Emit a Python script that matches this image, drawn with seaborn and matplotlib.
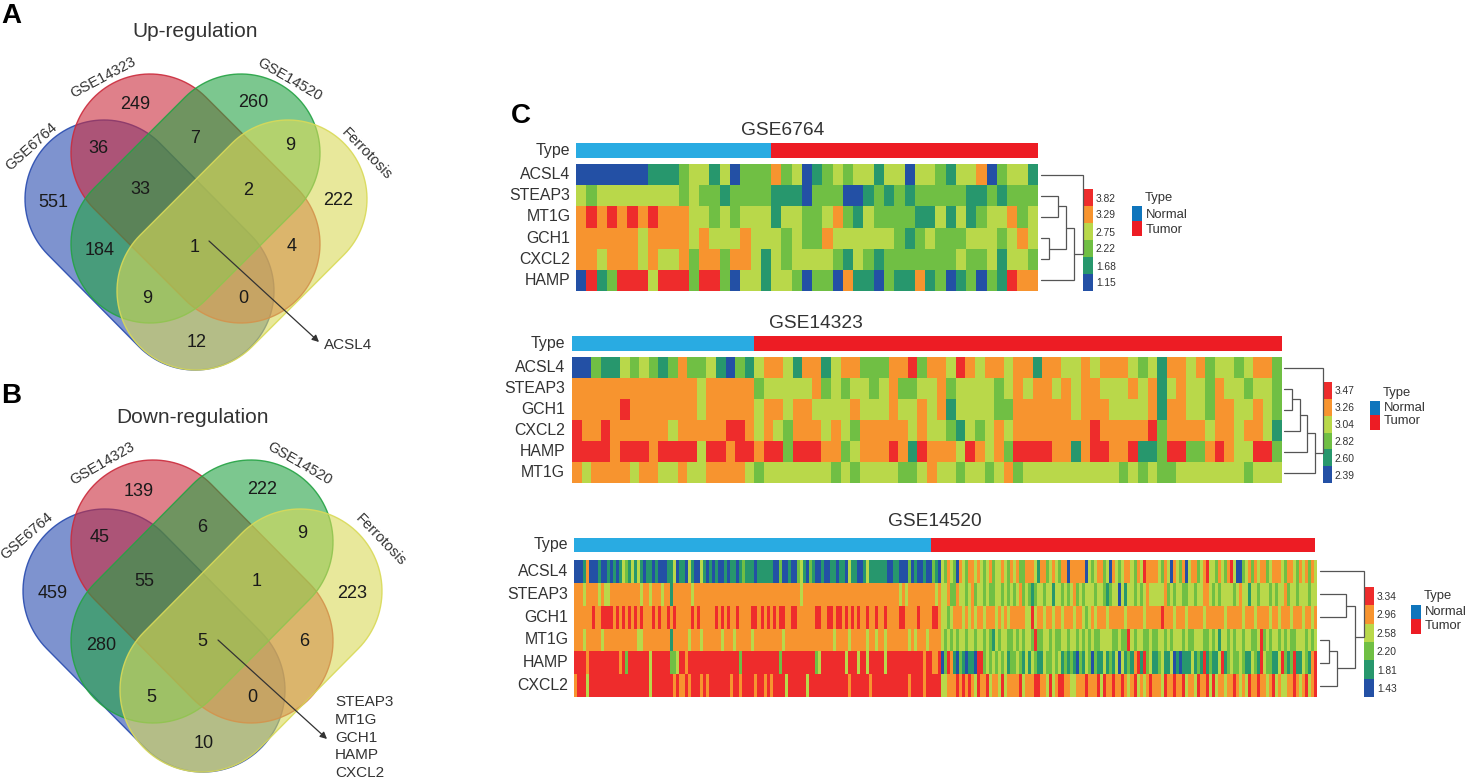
#!/usr/bin/env python3
# Venn diagrams (A, B) and expression heatmaps (C)

import numpy as np
import pandas as pd
import matplotlib
matplotlib.use("Agg")
import matplotlib.pyplot as plt
from matplotlib.colors import ListedColormap
from matplotlib.patches import Polygon, Rectangle
import seaborn as sns

W, H = 1466, 779

# heat levels: 0 blue ... 5 red
level_colors = ["#2350a5", "#27976d", "#70bf44", "#b9d84a", "#f7942f", "#ee2c2c"]
type_colors = ["#29abe2", "#ed1c24"]
legend_colors = ["#0f75bc", "#ed1c24"]

# --- Venn counts ---
up_counts = [551, 249, 260, 36, 7, 9, 33, 2, 222, 184, 1, 4, 9, 0, 12]
down_counts = [459, 139, 222, 45, 6, 9, 55, 1, 223, 280, 5, 6, 5, 0, 10]
genes_up = ["ACSL4"]
genes_down = ["STEAP3", "MT1G", "GCH1", "HAMP", "CXCL2"]

# --- GSE6764 ---
genes_6764 = ["ACSL4", "STEAP3", "MT1G", "GCH1", "CXCL2", "HAMP"]
rows_6764 = [
    "0000000" "111" "2" "33" "1" "3" "0" "222" "4" "2" "3" "0" "1" "2" "3" "2" "33" "1" "33" "0" "33" "2" "1" "33" "4" "0" "2" "33" "1",
    "3" "2" "33333333" "2" "3" "22" "1" "2222" "111" "0" "222" "00" "1" "2" "1" "2" "1" "22222" "11" "2" "1" "222",
    "4" "5" "4" "5" "4" "5" "4" "5" "444" "33" "2" "3" "2" "333" "1" "33" "22" "3" "4" "2" "1" "3" "2222" "11" "3" "1" "3" "1" "2" "33" "4" "2" "3",
    "444444" "3" "4444" "3" "4" "333" "4" "333" "2" "3" "22" "4" "333333" "2" "1" "2" "3" "222" "333" "2" "3" "4" "3",
    "44" "3" "444" "3" "4" "33" "4" "2" "44" "2" "44" "3" "1" "3" "2" "3333" "2" "1" "3" "2" "1" "2222222" "3" "22" "3" "1" "33" "2",
    "0" "5" "1" "2" "555" "3" "555" "2" "55" "2" "0" "33" "1" "33" "2" "0" "22" "0" "4" "11" "0" "2" "11" "4" "1" "2" "0" "1" "2" "0" "2" "1" "5" "44",
]
types_6764 = [0] * 19 + [1] * 26
scale_6764 = ["3.82", "3.29", "2.75", "2.22", "1.68", "1.15"]
merges_6764 = [(1, 2, 1058), (3, 4, 1049), (6, 7, 1066), (8, 5, 1074), (0, 9, 1083)]

# --- GSE14323 ---
genes_14323 = ["ACSL4", "STEAP3", "GCH1", "CXCL2", "HAMP", "MT1G"]
rows_14323 = [
    "0021132321" "2422310213" "44314413"
    "44222" "44" "5" "2" "44" "3" "5" "4" "3" "44" "3" "44" "1" "44" "33" "4" "3" "444" "3" "2" "3" "1" "44" "3" "4"
    "23323442",
    "4444444444444" "3" "44444" "2" "33333" "4" "2" "3"
    "2" "33" "2" "3" "4" "22" "33" "4" "2" "3333" "2" "3" "4" "3" "44" "3" "4" "3" "44" "333" "4" "3" "4" "1" "3" "4" "33"
    "24332332",
    "44444" "5" "4444444" "3" "44444" "3" "44" "3" "44" "333"
    "3" "4" "333" "4" "33" "4" "3" "4" "1" "3333" "22" "444444" "3" "444" "3333" "4" "1" "44" "33"
    "24433432",
    "5" "44" "5" "444444" "3" "44444" "55" "4" "3" "4" "3" "2" "444" "3" "4"
    "3" "2" "44444" "3" "4" "33" "2" "1" "3" "2" "3" "4" "3" "44444444" "5" "44444" "5" "2" "4444"
    "34434431",
    "5555" "4" "555" "4" "5555" "3" "55" "4" "55" "4" "55" "2" "555" "44"
    "2" "3" "444" "5" "4" "1" "5" "444" "3" "5" "4" "3" "4" "2" "5555" "44" "1" "4" "55" "44" "5" "11" "2" "55" "22"
    "45433552",
    "4" "3" "4444" "3" "44" "33" "4" "33" "4444" "3" "2" "3333333" "2"
    "3" "2" "3333" "22" "3" "4" "33" "2" "33" "2" "3" "4" "2" "3333333333" "2" "3" "2" "3" "22" "333"
    "33332333",
]
types_14323 = [0] * 19 + [1] * 55
scale_14323 = ["3.47", "3.26", "3.04", "2.82", "2.60", "2.39"]
merges_14323 = [(1, 2, 1292), (6, 3, 1300), (7, 4, 1307), (8, 5, 1315), (0, 9, 1323)]

# --- GSE14520 ---
genes_14520 = ["ACSL4", "STEAP3", "GCH1", "MT1G", "HAMP", "CXCL2"]
# normal samples: background level and the columns that differ from it
n_normal_14520 = 122
normal_14520 = [
    (1, {0: [0, 1, 2, 5, 6, 7, 9, 10, 12, 14, 23, 26, 28, 29, 30, 34, 37, 40, 41, 44, 46, 48, 49, 51, 54, 60,
             66, 67, 69, 70, 72, 73, 77, 80, 81, 83, 84, 87, 90, 94, 95, 104, 105, 108, 109, 110, 112, 114,
             115, 117, 118, 121],
         2: [17, 56, 68, 74, 78, 111, 119],
         3: [16, 19, 21, 33, 38, 42, 75, 91, 97],
         4: [4]}),
    (4, {3: [3, 8, 10, 11, 22, 25, 29, 39, 75, 108, 110, 120], 1: [32]}),
    (4, {5: [6, 9, 10, 11, 12, 14, 16, 18, 20, 22, 26, 28, 31, 33, 39, 41, 47, 49, 51, 54, 59, 60,
             62, 64, 66, 68, 69, 72, 73, 80, 81, 84, 85, 87, 88, 90, 92, 94, 97, 100, 103, 108, 109,
             114, 119, 120]}),
    (4, {3: [3, 9, 21, 22, 38, 42, 49, 53, 59, 69, 86, 91, 97, 100, 103, 111, 113, 117], 1: [32]}),
    (5, {4: [4, 15, 37, 116, 119, 120], 2: [17, 32, 33, 55, 68, 80], 3: [25, 34, 81, 90, 94, 97, 103]}),
    (5, {4: [0, 33, 35, 36, 38, 42, 44, 52, 55, 60, 63, 65, 91, 98, 111, 116], 3: [4, 25, 70, 77]}),
]
tumor_14520 = [
    "3243204324" "4343234233" "4324342244" "4314423432" "4404444403" "2344230432" "3443243544"
    "4432430432" "4034423453" "3243245300" "2342434423" "4443244324" "34243",
    "3342243323" "4233232233" "2323234232" "1233233133" "2323423233" "3233212330" "3133232343"
    "3333423233" "2233233443" "2323333234" "3313323332" "3233423323" "33233",
    "3323444343" "4344344434" "3434444433" "5344344344" "3444344323" "4344434444" "4344444344"
    "4445444344" "4344444344" "4444344444" "3444344443" "4434443444" "34434",
    "3232323323" "3233232132" "3322323233" "2522332322" "3323323232" "3223333223" "2253233223"
    "2233232333" "2322333223" "2313323233" "2332235232" "3323232233" "32323",
    "0254102101" "1055232323" "2312232131" "3211322323" "1212102132" "0211312130" "3121451523"
    "1123113010" "1113121512" "1135123223" "2113215322" "1135212511" "32145",
    "3344454545" "4354453443" "5344445344" "4554435345" "5443344454" "4453544544" "5434534345"
    "4443544544" "5344354453" "5344344543" "4354454434" "5343344543" "45345",
]
types_14520 = [0] * 119 + [1] * 128
scale_14520 = ["3.34", "2.96", "2.58", "2.20", "1.81", "1.43"]
merges_14520 = [(1, 2, 1346), (3, 4, 1329), (7, 5, 1337), (6, 8, 1355), (0, 9, 1364)]


def build_14520():
    out = []
    for (background, changes), tumor in zip(normal_14520, tumor_14520):
        row = [background] * n_normal_14520
        for level, cols in changes.items():
            for col in cols:
                row[col] = level
        out.append(row + [int(c) for c in tumor])
    return np.array(out)


def to_frame(rows, genes):
    return pd.DataFrame([[int(c) for c in r] for r in rows], index=genes)


def add_px_axes(fig, x0, y0, x1, y1):
    return fig.add_axes([x0 / W, 1 - y1 / H, (x1 - x0) / W, (y1 - y0) / H])


sns.set_theme(style="white")
plt.rcParams["font.family"] = ["Liberation Sans", "DejaVu Sans"]
TEXT = "#333333"

fig = plt.figure(figsize=(W / 100, H / 100), dpi=100)
heat_cmap = ListedColormap(level_colors)
type_cmap = ListedColormap(type_colors)


def draw_block(frame, types, box, type_box, label_pad, scale, scale_box):
    x0, y0, x1, y1 = box
    ax = add_px_axes(fig, x0, y0, x1, y1)
    sns.heatmap(frame, ax=ax, cmap=heat_cmap, vmin=-0.5, vmax=5.5, cbar=False,
                xticklabels=False, yticklabels=True)
    ax.tick_params(axis="y", length=0, pad=label_pad, labelsize=11.4, labelcolor=TEXT, rotation=0)
    ax.set_xlabel("")
    ax.set_ylabel("")

    tx = add_px_axes(fig, *type_box)
    sns.heatmap(pd.DataFrame([types], index=["Type"]), ax=tx, cmap=type_cmap, vmin=0, vmax=1, cbar=False,
                xticklabels=False, yticklabels=True)
    tx.tick_params(axis="y", length=0, pad=label_pad + (x0 - type_box[0]) * 0.72, labelsize=11.4,
                   labelcolor=TEXT, rotation=0)

    cx = add_px_axes(fig, *scale_box)
    levels = pd.DataFrame({"level": [5, 4, 3, 2, 1, 0]}, index=scale)
    sns.heatmap(levels, ax=cx, cmap=heat_cmap, vmin=-0.5, vmax=5.5, cbar=False,
                xticklabels=False, yticklabels=True)
    cx.yaxis.tick_right()
    cx.tick_params(axis="y", length=0, pad=2, labelsize=7.4, labelcolor=TEXT, rotation=0)
    cx.set_ylabel("")


draw_block(to_frame(rows_6764, genes_6764), types_6764, (576, 164, 1038, 291), (576, 143, 1038, 158),
           4, scale_6764, (1083, 189, 1093, 291))
draw_block(to_frame(rows_14323, genes_14323), types_14323, (572, 357, 1282, 483), (572, 336, 1282, 351),
           5, scale_14323, (1323, 382, 1332, 483))
draw_block(pd.DataFrame(build_14520(), index=genes_14520), types_14520, (574, 560, 1317, 697), (574, 538, 1315, 552),
           4, scale_14520, (1364, 587, 1374, 697))

# overlay in pixel coordinates for venns, dendrograms and text
ov = fig.add_axes([0, 0, 1, 1], zorder=5)
ov.set_xlim(0, W)
ov.set_ylim(H, 0)
ov.axis("off")
ov.patch.set_alpha(0)

venn_colors = ["#284baf", "#cb2b3c", "#25a344", "#d9da58"]
# (end circle 1, end circle 2) for each capsule
venn_a = [((104, 199), (195, 291)), ((150, 153), (241, 244)), ((241, 153), (150, 244)), ((288, 199), (196, 291))]
r_a = 79
venn_b = [((105, 591), (203, 690)), ((153, 542), (251, 641)), ((251, 542), (153, 641)), ((300, 591), (202, 690))]
r_b = 82


def capsule(c1, c2, r):
    c1, c2 = np.array(c1, float), np.array(c2, float)
    ang = np.arctan2(*(c2 - c1)[::-1])
    t1 = np.linspace(ang + np.pi / 2, ang + 3 * np.pi / 2, 60)
    t2 = np.linspace(ang - np.pi / 2, ang + np.pi / 2, 60)
    p1 = c1 + r * np.c_[np.cos(t1), np.sin(t1)]
    p2 = c2 + r * np.c_[np.cos(t2), np.sin(t2)]
    return np.vstack([p1, p2])


def draw_venn(ends, r, counts, count_xy, names_xy, title, title_xy, arrow, genes, gene_xy):
    for (c1, c2), col in zip(ends, venn_colors):
        ov.add_patch(Polygon(capsule(c1, c2, r), closed=True, facecolor=col, alpha=0.6, edgecolor="none"))
        ov.add_patch(Polygon(capsule(c1, c2, r), closed=True, facecolor="none", edgecolor=col, lw=1.0, alpha=0.9))
    for n, (x, y) in zip(counts, count_xy):
        ov.text(x, y, str(n), ha="center", va="center", fontsize=13, color="#1a1a1a")
    for name, (x, y, rot) in zip(["GSE6764", "GSE14323", "GSE14520", "Ferrotosis"], names_xy):
        ov.text(x, y, name, ha="center", va="center", rotation=rot, rotation_mode="anchor",
                fontsize=10.6, color=TEXT)
    ov.text(*title_xy, title, ha="center", va="center", fontsize=15, color=TEXT)
    ov.annotate("", xy=arrow[1], xytext=arrow[0],
                arrowprops=dict(arrowstyle="-|>", color="#333333", lw=0.9, shrinkA=0, shrinkB=0, mutation_scale=10))
    for gene, y in zip(genes, gene_xy[1]):
        ov.text(gene_xy[0], y, gene, ha="left", va="center", fontsize=11, color=TEXT)


draw_venn(venn_a, r_a, up_counts,
          [(53, 202), (135, 104), (253, 102), (98, 148), (195, 138), (290, 145), (140, 189), (248, 190),
           (338, 200), (100, 250), (195, 247), (292, 246), (147, 298), (243, 298), (197, 342)],
          [(31, 147, 42), (103, 78, 28), (290, 80, -30), (367, 154, -46)],
          "Up-regulation", (195, 31), ((209, 241), (319, 342)), genes_up, (324, [345]))
draw_venn(venn_b, r_b, down_counts,
          [(53, 594), (139, 491), (262, 489), (100, 538), (202, 527), (302, 534), (144, 581), (257, 582),
           (352, 593), (101, 645), (202, 642), (304, 641), (151, 697), (252, 697), (204, 743)],
          [(27, 536, 41), (102, 464, 30), (300, 464, -30), (381, 540, -46)],
          "Down-regulation", (192, 417), ((218, 640), (327, 739)), genes_down, (335, [702, 720, 738, 755, 773]))

for letter, x, y in [("A", 11, 16), ("B", 11, 396), ("C", 521, 116)]:
    ov.text(x, y, letter, ha="center", va="center", fontsize=20, fontweight="bold", color="black")

for name, x, y in [("GSE6764", 783, 130), ("GSE14323", 816, 323), ("GSE14520", 935, 522)]:
    ov.text(x, y, name, ha="center", va="center", fontsize=13.8, color=TEXT)


def draw_dendrogram(box, x_start, merges):
    y0, y1 = box
    step = (y1 - y0) / 6
    nodes = [(x_start, y0 + step * (i + 0.5)) for i in range(6)]
    for a, b, height in merges:
        (xa, ya), (xb, yb) = nodes[a], nodes[b]
        ov.plot([xa, height, height, xb], [ya, ya, yb, yb], color="#555555", lw=0.9, solid_joinstyle="miter")
        nodes.append((height, (ya + yb) / 2))


draw_dendrogram((164, 291), 1041, merges_6764)
draw_dendrogram((357, 483), 1284, merges_14323)
draw_dendrogram((560, 697), 1320, merges_14520)

# Type legends
for x, y_top, y_mid, y_bot, title_y, n_y, t_y in [
    (1132, 206, 221, 236, 198, 215, 230),
    (1370, 401, 415, 430, 393, 408, 421),
    (1411, 605, 619, 634, 596, 612, 626),
]:
    ov.add_patch(Rectangle((x, y_top), 10, y_mid - y_top, facecolor=legend_colors[0], edgecolor="none"))
    ov.add_patch(Rectangle((x, y_mid), 10, y_bot - y_mid, facecolor=legend_colors[1], edgecolor="none"))
    ov.text(x + 13, title_y, "Type", ha="left", va="center", fontsize=9.4, color=TEXT)
    ov.text(x + 14, n_y, "Normal", ha="left", va="center", fontsize=9.4, color=TEXT)
    ov.text(x + 14, t_y, "Tumor", ha="left", va="center", fontsize=9.4, color=TEXT)

fig.savefig("out.png", dpi=100)
